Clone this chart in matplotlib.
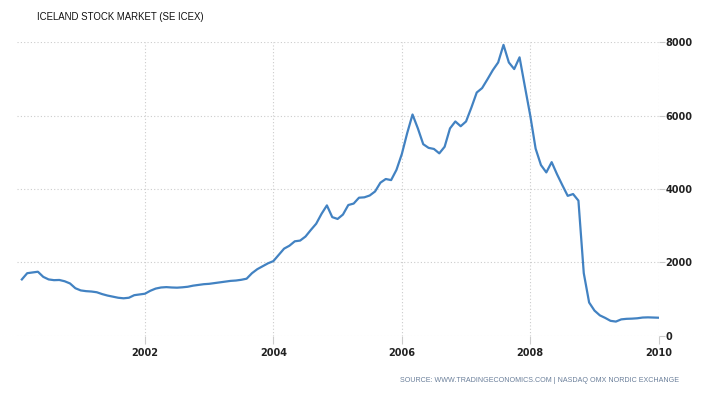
import matplotlib
matplotlib.use("Agg")
import matplotlib.pyplot as plt
import numpy as np

# monthly closes, Jan 2000 - Dec 2009
start_year = 2000
index_values = [
    1530, 1700, 1720, 1740, 1600, 1530, 1510, 1515, 1480, 1420, 1290, 1230,
    1210, 1200, 1180, 1130, 1090, 1060, 1030, 1015, 1030, 1100, 1120, 1140,
    1220, 1280, 1310, 1320, 1310, 1305, 1315, 1330, 1360, 1380, 1400, 1410,
    1430, 1450, 1470, 1490, 1500, 1520, 1550, 1700, 1810, 1890, 1970, 2030,
    2200, 2370, 2450, 2570, 2590, 2700, 2880, 3050, 3320, 3550, 3230, 3180,
    3300, 3560, 3600, 3760, 3770, 3820, 3930, 4170, 4270, 4240, 4520, 4950,
    5520, 6030, 5650, 5220, 5120, 5090, 4970, 5150, 5650, 5840, 5710, 5840,
    6220, 6630, 6750, 6990, 7240, 7450, 7930, 7450, 7270, 7590, 6790, 6000,
    5100, 4650, 4450, 4730, 4400, 4100, 3810, 3860, 3680, 1700, 900, 680,
    550, 480, 400, 380, 440, 455, 460, 470, 490, 495, 490, 485,
]
x_ticks = [2002, 2004, 2006, 2008, 2010]
y_ticks = [0, 2000, 4000, 6000, 8000]

title = "ICELAND STOCK MARKET (SE ICEX)"
source = "SOURCE: WWW.TRADINGECONOMICS.COM | NASDAQ OMX NORDIC EXCHANGE"

# month-end positions
dates = start_year + (np.arange(len(index_values)) + 1) / 12.0

fig = plt.figure(figsize=(7.03, 3.95), dpi=100)
ax = fig.add_axes([16.5 / 703, 1 - 335.5 / 395, 642.2 / 703, 293.2 / 395])

ax.plot(dates, index_values, color="#4282c2", linewidth=1.6)

ax.set_xlim(2000, 2010)
ax.set_ylim(0, 8000)
ax.set_xticks(x_ticks)
ax.set_xticklabels([str(t) for t in x_ticks])
ax.set_yticks(y_ticks)
ax.set_yticklabels([str(t) for t in y_ticks])

ax.grid(True, color="#cccccc", linestyle=(0, (1, 2)), linewidth=0.8)
for s in ax.spines.values():
    s.set_visible(False)

ax.yaxis.tick_right()
ax.tick_params(axis="x", length=6, width=0.8, color="#cccccc", pad=3,
               labelsize=7, labelcolor="#222222")
ax.tick_params(axis="y", length=4, width=0.8, color="#cccccc", pad=1,
               labelsize=7, labelcolor="#222222")
for lbl in ax.get_xticklabels() + ax.get_yticklabels():
    lbl.set_fontweight("bold")

fig.text(37 / 703, 1 - 17 / 395, title, fontsize=6.9, color="#111111",
         va="center", ha="left", family="Liberation Sans")
fig.text(679 / 703, 1 - 381 / 395, source, fontsize=5.1, color="#6a7f9a",
         va="center", ha="right", family="Liberation Sans")

fig.savefig("out.png", dpi=100)
